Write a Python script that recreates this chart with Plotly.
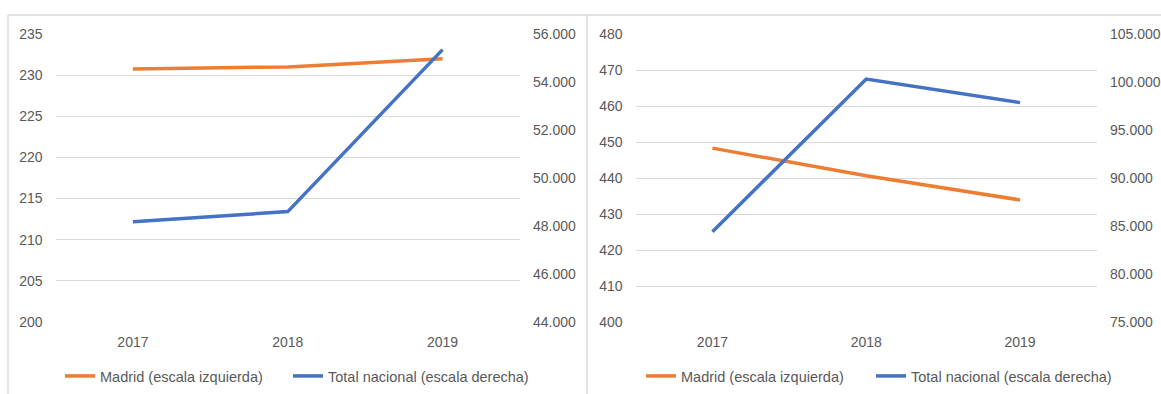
import plotly.graph_objects as go

# Datos
anios = ["2017", "2018", "2019"]

# Panel izquierdo
madrid_izq = [230.75, 231.0, 232.0]
nacional_izq = [48180, 48600, 55350]

# Panel derecho
madrid_der = [448.3, 440.6, 433.9]
nacional_der = [84400, 100300, 97850]

nombre_madrid = "Madrid (escala izquierda)"
nombre_nacional = "Total nacional (escala derecha)"

NARANJA = "#ED7D31"
AZUL = "#4472C4"
GRIS_TXT = "#595959"
GRIS_GRID = "#D9D9D9"

W, H = 1161, 394
FUENTE = "Liberation Sans, Arial, sans-serif"


def px_x(v):
    return v / W


def px_y(v):
    return (H - v) / H


fig = go.Figure()

# cada serie con su propia leyenda para poder colocarla como en el original
fig.add_trace(go.Scatter(x=anios, y=madrid_izq, mode="lines", name=nombre_madrid,
                         line=dict(color=NARANJA, width=3.5), xaxis="x", yaxis="y",
                         legend="legend"))
fig.add_trace(go.Scatter(x=anios, y=nacional_izq, mode="lines", name=nombre_nacional,
                         line=dict(color=AZUL, width=3.5), xaxis="x", yaxis="y2",
                         legend="legend2"))
fig.add_trace(go.Scatter(x=anios, y=madrid_der, mode="lines", name=nombre_madrid,
                         line=dict(color=NARANJA, width=3.5), xaxis="x2", yaxis="y3",
                         legend="legend3"))
fig.add_trace(go.Scatter(x=anios, y=nacional_der, mode="lines", name=nombre_nacional,
                         line=dict(color=AZUL, width=3.5), xaxis="x2", yaxis="y4",
                         legend="legend4"))

dom_y = [px_y(322), px_y(34)]

eje_x = dict(type="category", range=[-0.5, 2.5], showgrid=False, zeroline=False,
             showline=False, ticks="", ticklabelstandoff=10, automargin=False,
             tickfont=dict(size=14, color=GRIS_TXT))
eje_izq = dict(showgrid=True, gridcolor=GRIS_GRID, gridwidth=1, zeroline=False,
               showline=False, ticks="", ticklabelstandoff=12, automargin=False,
               tickfont=dict(size=14, color=GRIS_TXT))
eje_der = dict(showgrid=False, zeroline=False, showline=False, ticks="", side="right",
               ticklabelstandoff=12, tickformat=",.0f", automargin=False,
               tickfont=dict(size=14, color=GRIS_TXT))

leyenda = dict(orientation="h", xanchor="left", yanchor="middle", y=px_y(376),
               font=dict(size=14.5, color=GRIS_TXT), bgcolor="rgba(0,0,0,0)")

fig.update_layout(
    width=W, height=H, autosize=False,
    margin=dict(l=0, r=0, t=0, b=0, pad=0, autoexpand=False),
    paper_bgcolor="white", plot_bgcolor="white",
    font=dict(family=FUENTE, color=GRIS_TXT),
    separators=",.",
    xaxis=dict(eje_x, domain=[px_x(55.5), px_x(520)], anchor="y"),
    yaxis=dict(eje_izq, domain=dom_y, range=[200, 235], tickvals=list(range(200, 236, 5)),
               anchor="x"),
    yaxis2=dict(eje_der, domain=dom_y, range=[44000, 56000],
                tickvals=list(range(44000, 56001, 2000)), overlaying="y", anchor="x"),
    xaxis2=dict(eje_x, domain=[px_x(635.5), px_x(1097)], anchor="y3"),
    yaxis3=dict(eje_izq, domain=dom_y, range=[400, 480], tickvals=list(range(400, 481, 10)),
                anchor="x2"),
    yaxis4=dict(eje_der, domain=dom_y, range=[75000, 105000],
                tickvals=list(range(75000, 105001, 5000)), overlaying="y3", anchor="x2"),
    legend=dict(leyenda, x=px_x(60)),
    legend2=dict(leyenda, x=px_x(288)),
    legend3=dict(leyenda, x=px_x(641)),
    legend4=dict(leyenda, x=px_x(871)),
    showlegend=True,
)

# Bordes de los dos gráficos
borde = dict(color=GRIS_GRID, width=1.5)
fig.add_shape(type="line", xref="paper", yref="paper", x0=px_x(8), x1=1, y0=px_y(15), y1=px_y(15), line=borde)
fig.add_shape(type="line", xref="paper", yref="paper", x0=px_x(8), x1=px_x(8), y0=0, y1=px_y(15), line=borde)
fig.add_shape(type="line", xref="paper", yref="paper", x0=px_x(587), x1=px_x(587), y0=0, y1=px_y(15), line=borde)

# quitar el margen por defecto del body para que la figura ocupe la ventana
fig.write_html("out.html", config={"displayModeBar": False},
               post_script="document.body.style.margin='0';document.body.style.overflow='hidden';")
